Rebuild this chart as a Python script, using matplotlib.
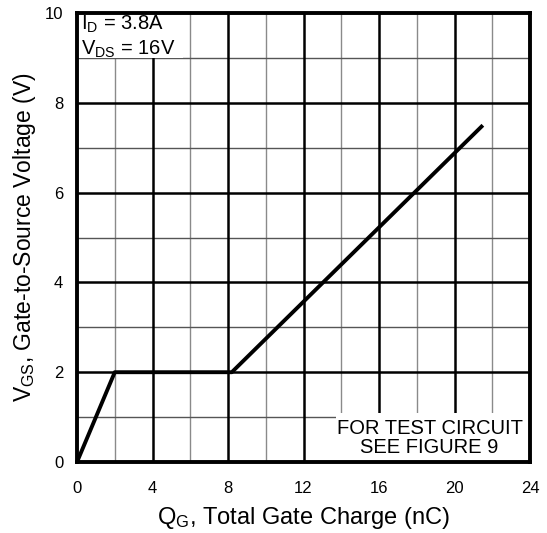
import matplotlib
matplotlib.use("Agg")
import matplotlib.pyplot as plt
from matplotlib.patches import Rectangle

plt.rcParams['font.family'] = ['Liberation Sans', 'DejaVu Sans']
plt.rcParams['mathtext.fontset'] = 'custom'
plt.rcParams['mathtext.rm'] = 'Liberation Sans'
plt.rcParams['mathtext.it'] = 'Liberation Sans'

qg = [0, 2, 8.2, 21.5]
vgs = [0, 2, 2, 7.5]
x_ticks = [0, 4, 8, 12, 16, 20, 24]
y_ticks = [0, 2, 4, 6, 8, 10]

fig = plt.figure(figsize=(5.47, 5.33), dpi=100)
ax = fig.add_axes([0.1408, 0.1332, 0.969 - 0.1408, 0.9756 - 0.1332])
ax.set_xlim(0, 24)
ax.set_ylim(0, 10)

for x in range(2, 24, 4):
    ax.axvline(x, color='#8a8a8a', lw=1.0, zorder=1)
for y in range(1, 10, 2):
    ax.axhline(y, color='#555555', lw=1.0, zorder=1)
for x in x_ticks[1:-1]:
    ax.axvline(x, color='black', lw=1.8, zorder=1)
for y in y_ticks[1:-1]:
    ax.axhline(y, color='black', lw=1.8, zorder=1)

ax.plot(qg, vgs, color='black', lw=2.8, zorder=3, solid_capstyle='butt')

# white label boxes
ax.add_patch(Rectangle((0, 9.0), 5.6, 1.0, facecolor='white', edgecolor='none', zorder=2))
ax.add_patch(Rectangle((13.7, 0), 10.3, 1.1, facecolor='white', edgecolor='none', zorder=2))
ax.text(0.2, 9.98, r'I$\mathregular{_D}$ = 3.8A', fontsize=14.5, va='top', ha='left', zorder=4)
ax.text(0.2, 9.43, r'V$\mathregular{_{DS}}$ = 16V', fontsize=14.5, va='top', ha='left', zorder=4)
ax.text(18.68, 0.53, 'FOR TEST CIRCUIT\nSEE FIGURE 9', fontsize=14.5, ha='center', va='center',
        linespacing=1.0, zorder=4)

ax.set_xticks(x_ticks)
ax.set_yticks(y_ticks)
ax.tick_params(length=0, labelsize=12)
ax.tick_params(axis='x', pad=14)
ax.tick_params(axis='y', pad=10)
for s in ax.spines.values():
    s.set_linewidth(2.8)
    s.set_zorder(5)

ax.set_xlabel(r'Q$\mathregular{_G}$, Total Gate Charge (nC)', fontsize=17, labelpad=6)
ax.set_ylabel(r'V$\mathregular{_{GS}}$, Gate-to-Source Voltage (V)', fontsize=16.5, labelpad=5)

fig.savefig('out.png', dpi=100)
